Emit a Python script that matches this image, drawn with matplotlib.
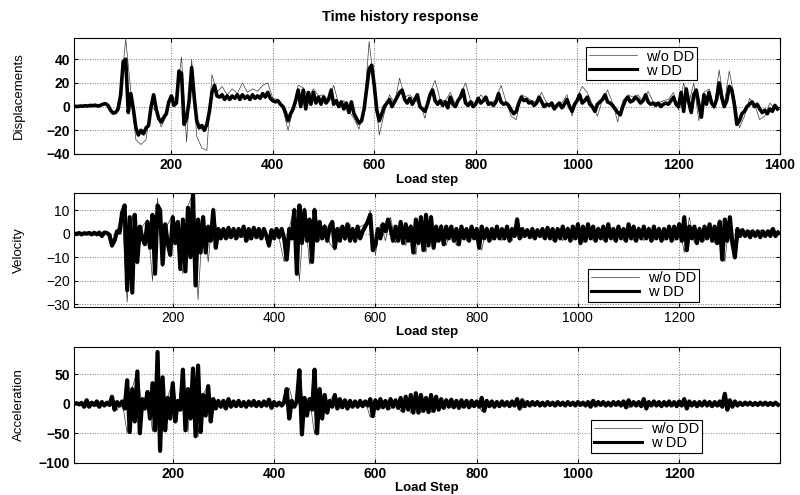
import numpy as np
import matplotlib
matplotlib.use('Agg')
import matplotlib.pyplot as plt

plt.rcParams['font.family'] = ['Liberation Sans', 'DejaVu Sans']

# Data (peaks / troughs), w DD every 5 steps, w/o DD every 10 steps
disp_w = [
    0, 0, 0.3, 0, 0.5, 0.3, 0.8, 0.5, 1, 0.8, 1.2, 0.5, 1, 2, 2.5, 1, -3, -5.5, -5, -2,
    10, 38, 40, -5, 11, -2, -18, -24, -20, -23, -18, -16, 0, 10, -2, -10, -13, -9, -6, 4,
    9, 1, 3, 30, 28, -15, -10, 5, 33, 8, -12, -18, -16, -20, -15, -4, 12, 18, 9, 8,
    10, 6, 9, 6, 9, 7, 10, 6, 10, 7, 9, 6, 10, 7, 9, 7, 11, 8, 12, 7,
    5, 4, 5, 2, 0, -5, -12, -6, -2, 5, 14, 0, 14, -2, 12, 2, 12, 3, 8, 2,
    8, 3, 6, 14, 2, 5, 0, 4, -2, 3, -5, 4, -6, -10, -14, -12, -2, 15, 32, 35,
    18, -3, -12, -6, 0, 3, 6, 0, 4, 8, 12, 14, 6, 3, 7, 2, 6, 10, 0, -2,
    -4, 2, 10, 14, 5, 2, 5, 1, 4, -1, 8, 2, 0, 5, 8, 14, 3, 1, 4, 0,
    2, 7, 3, 5, 8, 2, 3, 1, 4, 11, 4, 2, 3, 1, -3, -6, -4, 3, 8, 5,
    6, 3, 4, 1, 3, 8, 4, 0, 2, 1, 3, -2, 1, 3, -1, 2, 6, 0, -4, 2,
    5, 10, 3, 5, 8, 2, 0, -4, 2, 4, 6, 10, 4, 3, 1, -2, -5, -7, 0, 5,
    8, 4, 5, 8, 6, 3, 5, 10, 4, 2, 3, 1, 3, 0, 2, 3, 2, 5, 8, 2,
    0, 12, -4, 15, 4, -5, 10, 14, 2, -9, 10, 2, 12, 3, 0, 6, 20, 8, 0, 5,
    17, 14, 2, -15, -12, -6, -4, 0, 2, 4, 0, 2, -2, -5, -3, -6, -2, -4, 1, -2,
]
disp_wo = [
    0, 0.3, 0.5, 0.8, 1, 1.2, 1, 2.5, -3, -6, 12, 57, 13, -28, -32, -28, 2, -5, -17, -8,
    10, 5, 42, -30, 40, -25, -35, -37, 27, 12, 17, 10, 15, 11, 20, 12, 15, 13, 18, 20,
    7, 6, -2, -20, -2, 18, 16, 8, 15, 9, 10, 5, 18, 2, 5, -4, -10, -19, 0, 55,
    15, -24, -5, 10, 3, 24, 8, 10, 5, 3, -10, 12, 22, 6, 5, 12, 2, 10, 20, 5,
    3, 10, 5, 3, 6, 18, 4, -8, -11, 10, 8, 5, 4, 12, 3, 2, 0, 3, 10, -8,
    8, 17, 12, 2, -8, 6, 14, 3, -13, 5, 10, 8, 10, 4, 13, 4, 3, 5, 6, 12,
    -3, 20, 2, 20, -12, 12, 15, -2, 31, 2, 30, 8, -18, -8, 7, 2, -11, -8, 3, -2,
]

vel_w = [
    0, 0.2, -0.2, 0.3, -0.3, 0.2, 0, 0.3, -0.3, 0.4, -0.3, 0.5, -1, 0.5, 0.3, -0.5, -5, -3, 1, 0.5,
    9, 12, -24, 7, -25, 8, -12, 3, -2, -4.5, 5, -6, 8, -17, 12, 10, -13, 4, -4, -9,
    7, -4, 5, -15, 6, -16, 11, -10, 17, -22, 6, -8, 7, -8, 3, -3, 10, -6, 2, -2,
    2, -2, 2.5, -1.5, 2, -2, 2, -1, 3, -3, 2, -2, 2.5, -1.5, 2, -2, 2, -1, -5, 1.5,
    -2, 2, -1.5, 2, -2, -11, 2, -2, 10, -17, 12, -4, 10, -3, 6, -12, 10, -3, 5, -2,
    3, -3, 3, 5, -6, 2, -3, 3, -2, 4, -3, 2, -3, 3, -2, 1, 3, 5, 8, -7,
    -5, 2, -2, 4, 1, 6, 2, -3, 3, -3, 5, -4, 4, -3, 3, -8, 6, -4, 7, -7,
    8, -5, 7, -6, 3, -3, 3, -4.5, 3, -2, 3, -3, 2, -4.5, 3, -2, 2, -3, 3, -2,
    2, -6, 3, -2, 2, -3, 2, -2, 3, -2, 2, -2, 3, -3, 2, -1, 6, -2, 2, -1,
    1.5, -1.5, 2, -2, 1.5, -1, 2, -2, 2.5, -2, 2, -3, 2, -2, 3, -2, 2, -3, 3, -2,
    4, -4, 3, -3, 4, -2, 3, -3, 2, -2, 3, -3, 4, -2, 2, -3, 3, -2, 2, -3,
    4, -2, 3, -3, 2, -2, 3, -2, 2, -3, 3, -2, 2, -3, 2, -2, 3, -3, 3, -2,
    4, -3, 7, -7, 3, -2, 3, -4, 2, -3, 3, -2, 4, -3, 3, -4, 5, -11, 6, -3,
    7, -4, -10, 2, -1, 1.5, -1, 1, -1.5, 1, -1, 1, -1.5, 1, -1, 1, -1, 2, -1, 0.5,
]
vel_wo = [
    0, -0.3, 0.3, -0.3, 0.4, -0.4, -1.2, 0.4, -6, 1, 10, -29, 8, -13, 3, 6, -20, 15, -14, 4,
    8, -5, -17, 12, 17, -28, 8, -12, 11, -3, 2.5, -2, 2.5, -2, 3, -3, 3, -2, 2.5, -6,
    2, -2, -12, 2.5, 11, -20, 11, -13, 11, -3, 4, -4, -7, 3, -3, 4, -4, 3, 4, 10,
    -9, 4, -3, 7, -4, 5, -5, 4, -9, 8, -8, 8, -4, 4, -5, 3, -5, 3, -3, 3,
    -3, -7, 3, -3, 3, -3, 3, -3, 7, -2, 2, -2, 2, -2, 3, -3, 2, -3, 3, -3,
    5, -4, 4, -3, 3, -3, 4, -3, 3, -3, 4, -3, 3, -3, 3, -3, 3, -3, 3, -3,
    4, -8, 7, -4, 3, -3, 4, -4, 6, -12, 7, -11, 2, -1.5, 1.5, -1.5, 1.5, -1.5, 2, -1,
]

acc_w = [
    0.5, -0.5, 1, -1, 1.5, -5, 6, -5, 2, -2, 4, -5, 3, -3, 2, -2, 12, -10, 3, -3,
    4, -8, 40, -48, 25, -30, 55, -50, 8, -8, 20, -25, 35, -45, 88, -80, 45, -45, 10, -25,
    35, -30, 5, -10, 58, -45, 25, -25, 60, -55, 65, -48, 15, -20, 30, -30, 8, -8, 5, -5,
    5, -8, 8, -5, 4, -4, 5, -4, 3, -5, 4, -3, 5, -4, 3, -4, 4, -3, 7, -7,
    3, -3, 2, -3, 3, 25, -25, 5, -5, 4, 57, -52, 10, -20, 8, -10, 58, -50, 25, -25,
    15, -15, 5, -5, 15, -8, 8, -6, 6, -8, 5, -5, 4, -5, 5, -4, 4, -3, 8, -21,
    6, -8, 8, -6, 5, -8, 8, -5, 6, -7, 10, -12, 12, -10, 15, -15, 18, -15, 15, -12,
    10, -14, 15, -12, 12, -10, 8, -7, 6, -5, 7, -6, 5, -7, 6, -5, 5, -6, 5, -4,
    4, -5, 10, -12, 5, -4, 4, -5, 3, -4, 4, -3, 3, -4, 4, -3, 8, -8, 6, -4,
    3, -3, 3, -2, 3, -3, 2, -3, 3, -2, 2, -3, 3, -2, 2, -3, 3, -2, 2, -3,
    3, -2, 2, -3, 3, -5, 5, -3, 3, -2, 3, -3, 2, -3, 3, -2, 3, -3, 4, -6,
    6, -3, 3, -3, 3, -4, 8, -8, 3, -3, 4, -3, 3, -4, 3, -3, 4, -3, 3, -4,
    4, -3, 8, -8, 4, -3, 3, -4, 3, -3, 4, -3, 3, -4, 3, -3, 4, -5, 17, -10,
    6, -5, 4, -3, 2, -2, 2, -1.5, 2, -2, 1.5, -2, 2, -1.5, 2, -2, 1.5, -2, 2, -1.5,
]
acc_wo = [
    0.5, -1, 2, -6, 3, -5, 4, -3, 13, -11, 5, -50, 27, 57, -10, 22, -47, 90, -48, 12,
    37, -12, 60, -48, 62, -56, 16, 32, -10, 6, -8, 9, -5, 6, -5, 5, -5, 4, -4, 8,
    -4, 3, -3, 27, -6, 60, -22, 10, -52, 27, -16, 6, 16, -8, 7, -6, 5, -5, 5, -23,
    8, -8, 6, -9, 7, -13, 13, -16, 19, -16, 12, -15, 13, -8, 7, -7, 6, -7, 6, -6,
    5, -13, 6, -5, 4, -4, 4, -4, 9, -7, 3, -3, 3, -3, 3, -3, 3, -3, 3, -3,
    3, -3, 3, 6, -3, 3, -3, 3, -3, 5, -7, 3, -4, 9, -4, 4, -4, 4, -4, 4,
    -4, 9, -4, 4, -4, 4, -4, 4, -5, 18, -6, 5, -2, 2, -2, 2, -2, 2, -2, 2,
]

step_w = np.arange(len(disp_w)) * 5
step_wo = np.arange(len(disp_wo)) * 10

fig = plt.figure(figsize=(8, 4.95), dpi=100)
fig.text(0.5, 0.965, 'Time history response', ha='center', va='center',
         fontsize=10.5, fontweight='bold')

panels = [
    # series, position, ylim, yticks, ylabel, xlabel, xlim, xticks, tick weight, legend anchor, lw
    (disp_wo, disp_w, [0.0925, 0.689, 0.8825, 0.2343], (-40, 58), [-40, -20, 0, 20, 40],
     'Displacements', 'Load step', (8, 1400), range(200, 1401, 200), 'bold', (0.725, 0.925), 2.6),
    (vel_wo, vel_w, [0.0925, 0.3804, 0.8825, 0.2303], (-31, 17.4), [-30, -20, -10, 0, 10],
     'Velocity', 'Load step', (5, 1399), range(200, 1201, 200), 'normal', (0.728, 0.335), 3.0),
    (acc_wo, acc_w, [0.0925, 0.0653, 0.8825, 0.2343], (-100, 97), [-100, -50, 0, 50],
     'Acceleration', 'Load Step', (5, 1399), range(200, 1201, 200), 'bold', (0.732, 0.372), 3.0),
]

for wo, w, pos, ylim, yticks, ylab, xlab, xlim, xticks, tw, anchor, lw in panels:
    ax = fig.add_axes(pos)
    ax.plot(step_wo, wo, color='#3a3a3a', lw=0.5, label='w/o DD')
    ax.plot(step_w, w, color='black', lw=lw, label='w DD')
    ax.set_xlim(*xlim)
    ax.set_ylim(*ylim)
    ax.set_xticks(list(xticks))
    ax.set_yticks(yticks)
    ax.grid(True, linestyle=':', color='#777777', linewidth=0.7)
    ax.tick_params(direction='in', top=True, right=True, length=3, width=0.8,
                   labelsize=10, pad=3)
    for lab in ax.get_xticklabels() + ax.get_yticklabels():
        lab.set_fontweight(tw)
    for sp in ax.spines.values():
        sp.set_linewidth(0.8)
    ax.set_xlabel(xlab, fontsize=9.5, fontweight='bold', labelpad=1)
    ax.set_ylabel(ylab, fontsize=9.5)
    ax.yaxis.set_label_coords(-0.07, 0.5)
    leg = ax.legend(loc='upper left', bbox_to_anchor=anchor, fancybox=False,
                    edgecolor='black', framealpha=1, fontsize=10.5, handlelength=3.3,
                    borderpad=0.2, labelspacing=0.0, handletextpad=0.6,
                    borderaxespad=0)
    leg.get_frame().set_linewidth(0.8)
    leg.get_lines()[1].set_linewidth(2.2)

fig.savefig('out.png', dpi=100)
